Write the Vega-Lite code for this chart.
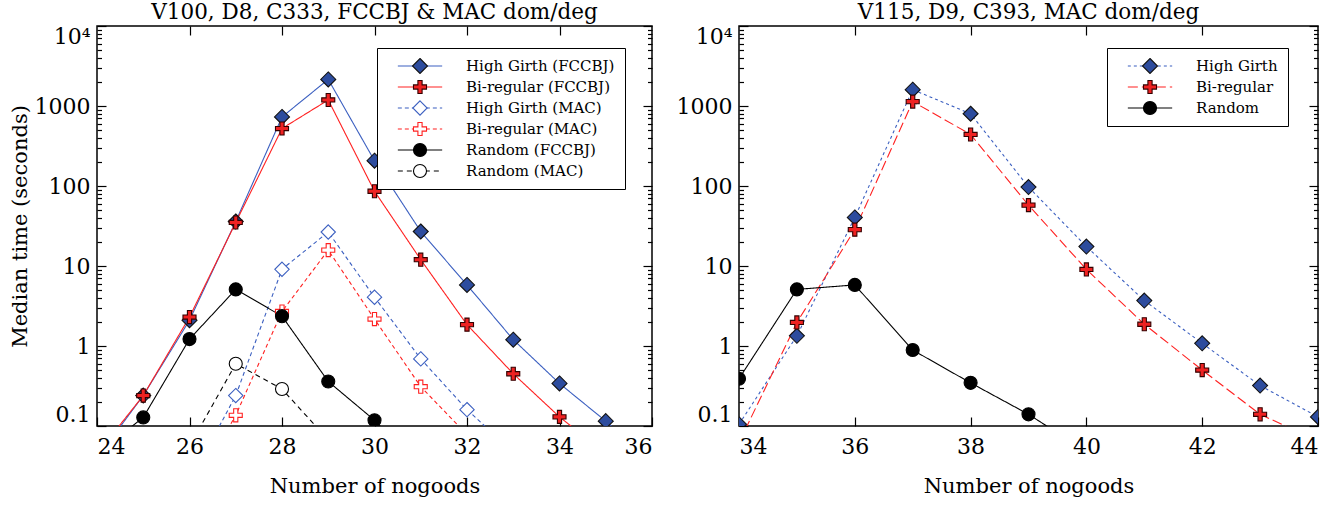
{
"$schema": "https://vega.github.io/schema/vega-lite/v6.json",
"padding": {"left": 8, "top": 0, "right": 8, "bottom": 2},
"bounds": "flush",
"spacing": 87,
"config": {
  "view": {"stroke": "#000000", "strokeWidth": 1.5},
  "font": "DejaVu Serif, Liberation Serif, serif",
  "style": {"guide-label": {"font": "DejaVu Serif, Liberation Serif, serif"}, "guide-title": {"font": "DejaVu Serif, Liberation Serif, serif", "fontWeight": "normal"}, "group-title": {"font": "DejaVu Serif, Liberation Serif, serif", "fontWeight": "normal"}},
  "axis": {"domain": false, "grid": false, "labelFont": "DejaVu Serif, Liberation Serif, serif", "labelFontSize": 22, "labelColor": "#000000", "titleFont": "DejaVu Serif, Liberation Serif, serif", "titleFontSize": 21, "titleFontWeight": "normal", "titleColor": "#000000", "tickColor": "#000000", "tickWidth": 1.2},
  "legend": {"labelFont": "DejaVu Serif, Liberation Serif, serif", "labelFontSize": 15, "labelColor": "#000000"},
  "title": {"font": "DejaVu Serif, Liberation Serif, serif", "fontSize": 21.5, "fontWeight": "normal", "color": "#000000", "offset": 2}
},
"datasets": {
  "L": [
    {"s": "High Girth (FCCBJ)", "x": 24, "y": 0.04}, {"s": "High Girth (FCCBJ)", "x": 25, "y": 0.24}, {"s": "High Girth (FCCBJ)", "x": 26, "y": 2.1}, {"s": "High Girth (FCCBJ)", "x": 27, "y": 36}, {"s": "High Girth (FCCBJ)", "x": 28, "y": 730}, {"s": "High Girth (FCCBJ)", "x": 29, "y": 2150}, {"s": "High Girth (FCCBJ)", "x": 30, "y": 207}, {"s": "High Girth (FCCBJ)", "x": 31, "y": 27}, {"s": "High Girth (FCCBJ)", "x": 32, "y": 5.8}, {"s": "High Girth (FCCBJ)", "x": 33, "y": 1.2}, {"s": "High Girth (FCCBJ)", "x": 34, "y": 0.34}, {"s": "High Girth (FCCBJ)", "x": 35, "y": 0.115}, {"s": "High Girth (FCCBJ)", "x": 36, "y": 0.035},
    {"s": "Bi-regular (FCCBJ)", "x": 24, "y": 0.045}, {"s": "Bi-regular (FCCBJ)", "x": 25, "y": 0.24}, {"s": "Bi-regular (FCCBJ)", "x": 26, "y": 2.3}, {"s": "Bi-regular (FCCBJ)", "x": 27, "y": 35}, {"s": "Bi-regular (FCCBJ)", "x": 28, "y": 523}, {"s": "Bi-regular (FCCBJ)", "x": 29, "y": 1190}, {"s": "Bi-regular (FCCBJ)", "x": 30, "y": 86}, {"s": "Bi-regular (FCCBJ)", "x": 31, "y": 12}, {"s": "Bi-regular (FCCBJ)", "x": 32, "y": 1.85}, {"s": "Bi-regular (FCCBJ)", "x": 33, "y": 0.45}, {"s": "Bi-regular (FCCBJ)", "x": 34, "y": 0.13}, {"s": "Bi-regular (FCCBJ)", "x": 35, "y": 0.045},
    {"s": "High Girth (MAC)", "x": 26, "y": 0.02}, {"s": "High Girth (MAC)", "x": 27, "y": 0.24}, {"s": "High Girth (MAC)", "x": 28, "y": 9.1}, {"s": "High Girth (MAC)", "x": 29, "y": 26.6}, {"s": "High Girth (MAC)", "x": 30, "y": 4.07}, {"s": "High Girth (MAC)", "x": 31, "y": 0.69}, {"s": "High Girth (MAC)", "x": 32, "y": 0.16}, {"s": "High Girth (MAC)", "x": 33, "y": 0.047},
    {"s": "Bi-regular (MAC)", "x": 26, "y": 0.013}, {"s": "Bi-regular (MAC)", "x": 27, "y": 0.136}, {"s": "Bi-regular (MAC)", "x": 28, "y": 2.7}, {"s": "Bi-regular (MAC)", "x": 29, "y": 15.8}, {"s": "Bi-regular (MAC)", "x": 30, "y": 2.17}, {"s": "Bi-regular (MAC)", "x": 31, "y": 0.31}, {"s": "Bi-regular (MAC)", "x": 32, "y": 0.078},
    {"s": "Random (FCCBJ)", "x": 24, "y": 0.045}, {"s": "Random (FCCBJ)", "x": 25, "y": 0.128}, {"s": "Random (FCCBJ)", "x": 26, "y": 1.22}, {"s": "Random (FCCBJ)", "x": 27, "y": 5.1}, {"s": "Random (FCCBJ)", "x": 28, "y": 2.36}, {"s": "Random (FCCBJ)", "x": 29, "y": 0.36}, {"s": "Random (FCCBJ)", "x": 30, "y": 0.118}, {"s": "Random (FCCBJ)", "x": 31, "y": 0.03},
    {"s": "Random (MAC)", "x": 26, "y": 0.056}, {"s": "Random (MAC)", "x": 27, "y": 0.6}, {"s": "Random (MAC)", "x": 28, "y": 0.29}, {"s": "Random (MAC)", "x": 29, "y": 0.067}
  ],
  "R": [
    {"s": "High Girth", "x": 34, "y": 0.105}, {"s": "High Girth", "x": 35, "y": 1.34}, {"s": "High Girth", "x": 36, "y": 40.5}, {"s": "High Girth", "x": 37, "y": 1600}, {"s": "High Girth", "x": 38, "y": 800}, {"s": "High Girth", "x": 39, "y": 97}, {"s": "High Girth", "x": 40, "y": 17.5}, {"s": "High Girth", "x": 41, "y": 3.7}, {"s": "High Girth", "x": 42, "y": 1.08}, {"s": "High Girth", "x": 43, "y": 0.32}, {"s": "High Girth", "x": 44, "y": 0.13},
    {"s": "Bi-regular", "x": 34, "y": 0.062}, {"s": "Bi-regular", "x": 35, "y": 1.97}, {"s": "Bi-regular", "x": 36, "y": 28.5}, {"s": "Bi-regular", "x": 37, "y": 1135}, {"s": "Bi-regular", "x": 38, "y": 441}, {"s": "Bi-regular", "x": 39, "y": 57.7}, {"s": "Bi-regular", "x": 40, "y": 9.06}, {"s": "Bi-regular", "x": 41, "y": 1.87}, {"s": "Bi-regular", "x": 42, "y": 0.5}, {"s": "Bi-regular", "x": 43, "y": 0.14}, {"s": "Bi-regular", "x": 44, "y": 0.065},
    {"s": "Random", "x": 34, "y": 0.39}, {"s": "Random", "x": 35, "y": 5.1}, {"s": "Random", "x": 36, "y": 5.8}, {"s": "Random", "x": 37, "y": 0.89}, {"s": "Random", "x": 38, "y": 0.346}, {"s": "Random", "x": 39, "y": 0.14}, {"s": "Random", "x": 40, "y": 0.048}
  ]
},
"hconcat": [
  {
    "width": 555, "height": 400,
    "title": {"text": "V100, D8, C333, FCCBJ & MAC dom/deg", "font": "DejaVu Serif, Liberation Serif, serif", "fontSize": 21.5, "fontWeight": "normal", "offset": 2},
    "data": {"name": "L"},
    "layer": [
      {
        "mark": {"type": "line", "clip": true, "strokeWidth": 1.1},
        "encoding": {
          "x": {"field": "x", "type": "quantitative", "scale": {"domain": [24, 36], "nice": false, "zero": false},
                "axis": {"orient": "bottom", "values": [24, 26, 28, 30, 32, 34, 36], "format": "d", "tickSize": -9, "labelFlush": true, "labelPadding": 19, "labelFont": "DejaVu Serif, Liberation Serif, serif", "titleFont": "DejaVu Serif, Liberation Serif, serif", "title": "Number of nogoods", "titlePadding": 18}},
          "y": {"field": "y", "type": "quantitative", "scale": {"type": "log", "domain": [0.1, 10000], "nice": false},
                "axis": {"orient": "left", "values": [0.1, 1, 10, 100, 1000, 10000], "tickSize": -9, "labelFlush": true, "labelPadding": 16, "labelFont": "DejaVu Serif, Liberation Serif, serif", "titleFont": "DejaVu Serif, Liberation Serif, serif", "labelExpr": "datum.value > 5000 ? '10⁴' : datum.value < 0.5 ? '0.1' : format(datum.value, 'd')", "title": "Median time (seconds)", "titlePadding": 4}},
          "color": {"field": "s", "type": "nominal",
                    "scale": {"domain": ["High Girth (FCCBJ)", "Bi-regular (FCCBJ)", "High Girth (MAC)", "Bi-regular (MAC)", "Random (FCCBJ)", "Random (MAC)"], "range": ["#3b5fc0", "#ff2020", "#3b5fc0", "#ff2020", "#000000", "#000000"]},
                    "legend": {"orient": "none", "legendX": 280, "legendY": 22, "title": null, "symbolType": "M-3.4,0H3.4", "symbolSize": 170, "symbolStrokeWidth": 1.2, "symbolOffset": 25.5, "labelOffset": 38.5, "padding": 10, "rowPadding": 5, "clipHeight": 16, "fillColor": "#ffffff", "strokeColor": "#000000", "zindex": 1}},
          "strokeDash": {"field": "s", "type": "nominal",
                    "scale": {"domain": ["High Girth (FCCBJ)", "Bi-regular (FCCBJ)", "High Girth (MAC)", "Bi-regular (MAC)", "Random (FCCBJ)", "Random (MAC)"], "range": [[1, 0], [1, 0], [4, 3], [4, 3], [1, 0], [5, 4]]},
                    "legend": {"orient": "none", "legendX": 280, "legendY": 22, "title": null, "symbolType": "M-3.4,0H3.4", "symbolSize": 170, "symbolStrokeWidth": 1.2, "symbolOffset": 25.5, "labelOffset": 38.5, "padding": 10, "rowPadding": 5, "clipHeight": 16, "fillColor": "#ffffff", "strokeColor": "#000000", "zindex": 1}}
        }
      },
      {
        "mark": {"type": "point", "clip": true, "opacity": 1, "strokeWidth": 1.1, "size": 170},
        "encoding": {
          "x": {"field": "x", "type": "quantitative", "scale": {"domain": [24, 36], "nice": false, "zero": false},
                "axis": {"orient": "top", "values": [26, 28, 30, 32, 34], "tickSize": -9, "labels": false, "title": null}},
          "y": {"field": "y", "type": "quantitative", "scale": {"type": "log", "domain": [0.1, 10000], "nice": false},
                "axis": {"orient": "right", "values": [0.1, 1, 10, 100, 1000, 10000], "tickSize": -9, "labels": false, "title": null}},
          "shape": {"field": "s", "type": "nominal",
                    "scale": {"domain": ["High Girth (FCCBJ)", "Bi-regular (FCCBJ)", "High Girth (MAC)", "Bi-regular (MAC)", "Random (FCCBJ)", "Random (MAC)", "zzz"], "range": ["M0,-1.15L1.15,0L0,1.15L-1.15,0Z", "M-0.32,-1H0.32V-0.32H1V0.32H0.32V1H-0.32V0.32H-1V-0.32H-0.32Z", "M0,-1.1L1.1,0L0,1.1L-1.1,0Z", "M-0.32,-1H0.32V-0.32H1V0.32H0.32V1H-0.32V0.32H-1V-0.32H-0.32Z", "circle", "circle", "circle"]},
                    "legend": {"orient": "none", "legendX": 280, "legendY": 22, "title": null, "symbolSize": 170, "symbolStrokeWidth": 1.1, "symbolOffset": 25.5, "labelOffset": 38.5, "padding": 10, "rowPadding": 5, "clipHeight": 16, "labelOpacity": 0, "zindex": 2, "values": ["High Girth (FCCBJ)", "Bi-regular (FCCBJ)", "High Girth (MAC)", "Bi-regular (MAC)", "Random (FCCBJ)", "Random (MAC)"]}},
          "fill": {"field": "s", "type": "nominal",
                    "scale": {"domain": ["High Girth (FCCBJ)", "Bi-regular (FCCBJ)", "High Girth (MAC)", "Bi-regular (MAC)", "Random (FCCBJ)", "Random (MAC)", "zzz"], "range": ["#2d4c9e", "#ee2222", "#ffffff", "#ffffff", "#000000", "#ffffff", "#000000"]},
                    "legend": {"orient": "none", "legendX": 280, "legendY": 22, "title": null, "symbolSize": 170, "symbolStrokeWidth": 1.1, "symbolOffset": 25.5, "labelOffset": 38.5, "padding": 10, "rowPadding": 5, "clipHeight": 16, "labelOpacity": 0, "zindex": 2, "values": ["High Girth (FCCBJ)", "Bi-regular (FCCBJ)", "High Girth (MAC)", "Bi-regular (MAC)", "Random (FCCBJ)", "Random (MAC)"]}},
          "stroke": {"field": "s", "type": "nominal",
                    "scale": {"domain": ["High Girth (FCCBJ)", "Bi-regular (FCCBJ)", "High Girth (MAC)", "Bi-regular (MAC)", "Random (FCCBJ)", "Random (MAC)", "zzz"], "range": ["#111111", "#330000", "#3b5fc0", "#ff2020", "#000000", "#000000", "#000000"]},
                    "legend": {"orient": "none", "legendX": 280, "legendY": 22, "title": null, "symbolSize": 170, "symbolStrokeWidth": 1.1, "symbolOffset": 25.5, "labelOffset": 38.5, "padding": 10, "rowPadding": 5, "clipHeight": 16, "labelOpacity": 0, "zindex": 2, "values": ["High Girth (FCCBJ)", "Bi-regular (FCCBJ)", "High Girth (MAC)", "Bi-regular (MAC)", "Random (FCCBJ)", "Random (MAC)"]}}
        }
      },
      {
        "mark": {"type": "point", "clip": true, "opacity": 0},
        "encoding": {
          "x": {"field": "x", "type": "quantitative", "scale": {"domain": [24, 36], "nice": false, "zero": false}, "axis": null},
          "y": {"field": "y", "type": "quantitative", "scale": {"type": "log", "domain": [0.1, 10000], "nice": false},
                "axis": {"orient": "left", "values": [0.2, 0.3, 0.4, 0.5, 0.6, 0.7, 0.8, 0.9, 2, 3, 4, 5, 6, 7, 8, 9, 20, 30, 40, 50, 60, 70, 80, 90, 200, 300, 400, 500, 600, 700, 800, 900, 2000, 3000, 4000, 5000, 6000, 7000, 8000, 9000], "tickSize": -4.5, "labels": false, "title": null}}
        }
      },
      {
        "mark": {"type": "point", "clip": true, "opacity": 0},
        "encoding": {
          "x": {"field": "x", "type": "quantitative", "scale": {"domain": [24, 36], "nice": false, "zero": false}, "axis": null},
          "y": {"field": "y", "type": "quantitative", "scale": {"type": "log", "domain": [0.1, 10000], "nice": false},
                "axis": {"orient": "right", "values": [0.2, 0.3, 0.4, 0.5, 0.6, 0.7, 0.8, 0.9, 2, 3, 4, 5, 6, 7, 8, 9, 20, 30, 40, 50, 60, 70, 80, 90, 200, 300, 400, 500, 600, 700, 800, 900, 2000, 3000, 4000, 5000, 6000, 7000, 8000, 9000], "tickSize": -4.5, "labels": false, "title": null}}
        }
      }
    ],
    "resolve": {"axis": {"x": "independent", "y": "independent"}}
  },
  {
    "width": 579, "height": 400,
    "title": {"text": "V115, D9, C393, MAC dom/deg", "font": "DejaVu Serif, Liberation Serif, serif", "fontSize": 21.5, "fontWeight": "normal", "offset": 2},
    "data": {"name": "R"},
    "layer": [
      {
        "mark": {"type": "line", "clip": true, "strokeWidth": 1.1},
        "encoding": {
          "x": {"field": "x", "type": "quantitative", "scale": {"domain": [34, 44], "nice": false, "zero": false},
                "axis": {"orient": "bottom", "values": [34, 36, 38, 40, 42, 44], "format": "d", "tickSize": -9, "labelFlush": true, "labelPadding": 19, "labelFont": "DejaVu Serif, Liberation Serif, serif", "titleFont": "DejaVu Serif, Liberation Serif, serif", "title": "Number of nogoods", "titlePadding": 18}},
          "y": {"field": "y", "type": "quantitative", "scale": {"type": "log", "domain": [0.1, 10000], "nice": false},
                "axis": {"orient": "left", "values": [0.1, 1, 10, 100, 1000, 10000], "tickSize": -9, "labelFlush": true, "labelPadding": 16, "labelFont": "DejaVu Serif, Liberation Serif, serif", "labelExpr": "datum.value > 5000 ? '10⁴' : datum.value < 0.5 ? '0.1' : format(datum.value, 'd')", "title": null}},
          "color": {"field": "s", "type": "nominal",
                    "scale": {"domain": ["High Girth", "Bi-regular", "Random"], "range": ["#3b5fc0", "#ff2020", "#000000"]},
                    "legend": {"orient": "none", "legendX": 368, "legendY": 22, "title": null, "symbolType": "M-3.4,0H3.4", "symbolSize": 170, "symbolStrokeWidth": 1.2, "symbolOffset": 25.5, "labelOffset": 38.5, "padding": 10, "rowPadding": 5, "clipHeight": 16, "fillColor": "#ffffff", "strokeColor": "#000000", "zindex": 1}},
          "strokeDash": {"field": "s", "type": "nominal",
                    "scale": {"domain": ["High Girth", "Bi-regular", "Random"], "range": [[3, 3], [10, 4], [1, 0]]},
                    "legend": {"orient": "none", "legendX": 368, "legendY": 22, "title": null, "symbolType": "M-3.4,0H3.4", "symbolSize": 170, "symbolStrokeWidth": 1.2, "symbolOffset": 25.5, "labelOffset": 38.5, "padding": 10, "rowPadding": 5, "clipHeight": 16, "fillColor": "#ffffff", "strokeColor": "#000000", "zindex": 1}}
        }
      },
      {
        "mark": {"type": "point", "clip": true, "opacity": 1, "strokeWidth": 1.1, "size": 170},
        "encoding": {
          "x": {"field": "x", "type": "quantitative", "scale": {"domain": [34, 44], "nice": false, "zero": false},
                "axis": {"orient": "top", "values": [36, 38, 40, 42], "tickSize": -9, "labels": false, "title": null}},
          "y": {"field": "y", "type": "quantitative", "scale": {"type": "log", "domain": [0.1, 10000], "nice": false},
                "axis": {"orient": "right", "values": [0.1, 1, 10, 100, 1000, 10000], "tickSize": -9, "labels": false, "title": null}},
          "shape": {"field": "s", "type": "nominal",
                    "scale": {"domain": ["High Girth", "Bi-regular", "Random", "zzz"], "range": ["M0,-1.15L1.15,0L0,1.15L-1.15,0Z", "M-0.32,-1H0.32V-0.32H1V0.32H0.32V1H-0.32V0.32H-1V-0.32H-0.32Z", "circle", "circle"]},
                    "legend": {"orient": "none", "legendX": 368, "legendY": 22, "title": null, "symbolSize": 170, "symbolStrokeWidth": 1.1, "symbolOffset": 25.5, "labelOffset": 38.5, "padding": 10, "rowPadding": 5, "clipHeight": 16, "labelOpacity": 0, "zindex": 2, "values": ["High Girth", "Bi-regular", "Random"]}},
          "fill": {"field": "s", "type": "nominal",
                    "scale": {"domain": ["High Girth", "Bi-regular", "Random", "zzz"], "range": ["#2d4c9e", "#ee2222", "#000000", "#000000"]},
                    "legend": {"orient": "none", "legendX": 368, "legendY": 22, "title": null, "symbolSize": 170, "symbolStrokeWidth": 1.1, "symbolOffset": 25.5, "labelOffset": 38.5, "padding": 10, "rowPadding": 5, "clipHeight": 16, "labelOpacity": 0, "zindex": 2, "values": ["High Girth", "Bi-regular", "Random"]}},
          "stroke": {"field": "s", "type": "nominal",
                    "scale": {"domain": ["High Girth", "Bi-regular", "Random", "zzz"], "range": ["#111111", "#330000", "#000000", "#000000"]},
                    "legend": {"orient": "none", "legendX": 368, "legendY": 22, "title": null, "symbolSize": 170, "symbolStrokeWidth": 1.1, "symbolOffset": 25.5, "labelOffset": 38.5, "padding": 10, "rowPadding": 5, "clipHeight": 16, "labelOpacity": 0, "zindex": 2, "values": ["High Girth", "Bi-regular", "Random"]}}
        }
      },
      {
        "mark": {"type": "point", "clip": true, "opacity": 0},
        "encoding": {
          "x": {"field": "x", "type": "quantitative", "scale": {"domain": [34, 44], "nice": false, "zero": false}, "axis": null},
          "y": {"field": "y", "type": "quantitative", "scale": {"type": "log", "domain": [0.1, 10000], "nice": false},
                "axis": {"orient": "left", "values": [0.2, 0.3, 0.4, 0.5, 0.6, 0.7, 0.8, 0.9, 2, 3, 4, 5, 6, 7, 8, 9, 20, 30, 40, 50, 60, 70, 80, 90, 200, 300, 400, 500, 600, 700, 800, 900, 2000, 3000, 4000, 5000, 6000, 7000, 8000, 9000], "tickSize": -4.5, "labels": false, "title": null}}
        }
      },
      {
        "mark": {"type": "point", "clip": true, "opacity": 0},
        "encoding": {
          "x": {"field": "x", "type": "quantitative", "scale": {"domain": [34, 44], "nice": false, "zero": false}, "axis": null},
          "y": {"field": "y", "type": "quantitative", "scale": {"type": "log", "domain": [0.1, 10000], "nice": false},
                "axis": {"orient": "right", "values": [0.2, 0.3, 0.4, 0.5, 0.6, 0.7, 0.8, 0.9, 2, 3, 4, 5, 6, 7, 8, 9, 20, 30, 40, 50, 60, 70, 80, 90, 200, 300, 400, 500, 600, 700, 800, 900, 2000, 3000, 4000, 5000, 6000, 7000, 8000, 9000], "tickSize": -4.5, "labels": false, "title": null}}
        }
      }
    ],
    "resolve": {"axis": {"x": "independent", "y": "independent"}}
  }
],
"resolve": {"scale": {"x": "independent", "y": "independent", "color": "independent", "strokeDash": "independent", "shape": "independent", "fill": "independent", "stroke": "independent"}}
}
